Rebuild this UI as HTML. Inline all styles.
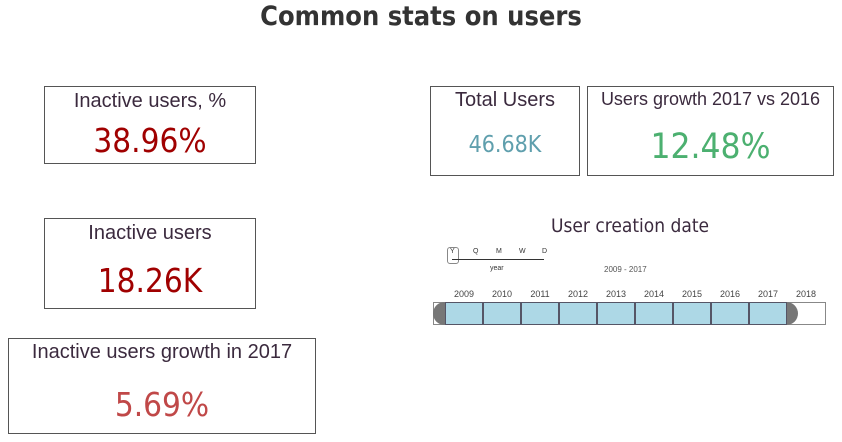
<!DOCTYPE html>
<html><head><style>
body{margin:0;width:842px;height:442px;background:#fff;position:relative;overflow:hidden;font-family:"Liberation Sans",sans-serif;}
.a{position:absolute;}
.box{position:absolute;border:1px solid #555;box-sizing:border-box;}
.lab{position:absolute;left:0;right:0;text-align:center;color:#3b2a3e;font-size:20px;}
.val{position:absolute;left:0;right:0;text-align:center;font-family:"DejaVu Sans Condensed","DejaVu Sans",sans-serif;}
.yr{position:absolute;top:289px;font-size:9px;color:#444;width:38px;text-align:center;}
.cell{position:absolute;top:302px;height:23px;width:38px;background:#add8e6;border:1px solid #556;box-sizing:border-box;}
</style></head><body>
<div class="a" style="left:0;width:842px;top:1px;text-align:center;font-size:27px;font-weight:bold;color:#333;font-family:'DejaVu Sans Condensed','DejaVu Sans',sans-serif;">Common stats on users</div>

<div class="box" style="left:44px;top:86px;width:212px;height:78px;">
<div class="lab" style="top:3px;">Inactive users, %</div>
<div class="val" style="top:34px;font-size:33px;color:#a00000;">38.96%</div></div>

<div class="box" style="left:44px;top:218px;width:212px;height:91px;">
<div class="lab" style="top:3px;">Inactive users</div>
<div class="val" style="top:42px;font-size:33px;color:#a00000;">18.26K</div></div>

<div class="box" style="left:8px;top:338px;width:308px;height:96px;">
<div class="lab" style="top:2px;">Inactive users growth in 2017</div>
<div class="val" style="top:46px;font-size:33px;color:#c04848;">5.69%</div></div>

<div class="box" style="left:430px;top:86px;width:150px;height:90px;">
<div class="lab" style="top:2px;">Total Users</div>
<div class="val" style="top:45px;font-size:23px;color:#5f9fad;">46.68K</div></div>

<div class="box" style="left:587px;top:86px;width:247px;height:90px;">
<div class="lab" style="top:2px;font-size:18px;">Users growth 2017 vs 2016</div>
<div class="val" style="top:40px;font-size:35px;color:#4cb070;">12.48%</div></div>

<div class="a" style="left:430px;width:400px;top:215px;text-align:center;font-size:19px;color:#3b2a3e;font-family:'DejaVu Sans Condensed','DejaVu Sans',sans-serif;">User creation date</div>

<div class="a" style="left:447px;top:247px;width:12px;height:17px;border:1px solid #888;border-radius:3px;box-sizing:border-box;"></div>
<div class="a" style="left:452px;top:259px;width:92px;height:1px;background:#333;"></div>
<div class="a" style="left:450px;top:248px;font-size:7px;color:#333;">Y</div>
<div class="a" style="left:473px;top:248px;font-size:7px;color:#333;">Q</div>
<div class="a" style="left:496px;top:248px;font-size:7px;color:#333;">M</div>
<div class="a" style="left:519px;top:248px;font-size:7px;color:#333;">W</div>
<div class="a" style="left:542px;top:248px;font-size:7px;color:#333;">D</div>
<div class="a" style="left:490px;top:265px;font-size:7px;color:#333;">year</div>
<div class="a" style="left:604px;top:265px;font-size:8px;color:#555;">2009 - 2017</div>

<div class="a" style="left:433px;top:302px;width:393px;height:23px;border:1px solid #888;box-sizing:border-box;background:#fff;"></div>
<div class="a" style="left:433px;top:302px;width:14px;height:23px;background:#777;border-radius:12px 0 0 12px;"></div>
<div class="a" style="left:785px;top:302px;width:13px;height:23px;background:#777;border-radius:0 12px 12px 0;"></div>
<div class="cell" style="left:445px"></div><div class="cell" style="left:483px"></div><div class="cell" style="left:521px"></div>
<div class="cell" style="left:559px"></div><div class="cell" style="left:597px"></div><div class="cell" style="left:635px"></div>
<div class="cell" style="left:673px"></div><div class="cell" style="left:711px"></div><div class="cell" style="left:749px"></div>
<div class="yr" style="left:445px">2009</div><div class="yr" style="left:483px">2010</div><div class="yr" style="left:521px">2011</div>
<div class="yr" style="left:559px">2012</div><div class="yr" style="left:597px">2013</div><div class="yr" style="left:635px">2014</div>
<div class="yr" style="left:673px">2015</div><div class="yr" style="left:711px">2016</div><div class="yr" style="left:749px">2017</div>
<div class="yr" style="left:787px">2018</div>
</body></html>
